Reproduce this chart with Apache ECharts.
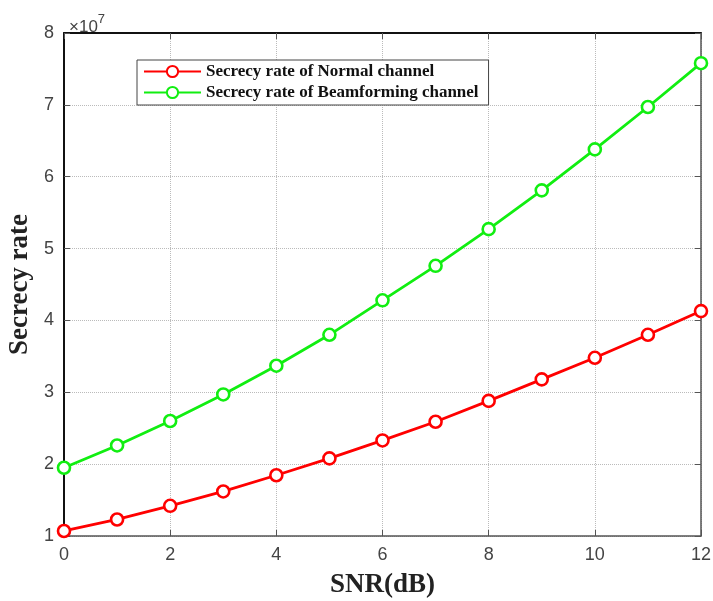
<!DOCTYPE html>
<html>
<head>
<meta charset="utf-8">
<script src="https://cdn.jsdelivr.net/npm/echarts@6/dist/echarts.min.js"></script>
<style>html,body{margin:0;padding:0;background:#fff}#c{width:713px;height:601px}</style>
</head>
<body>
<div id="c"></div>
<script>
const snr = [0,1,2,3,4,5,6,7,8,9,10,11,12];
const normal = [1.07,1.23,1.42,1.62,1.845,2.08,2.33,2.59,2.88,3.18,3.48,3.80,4.13];
const beam = [1.95,2.26,2.60,2.97,3.37,3.80,4.28,4.76,5.27,5.81,6.38,6.97,7.58];
const seriesNames = ['Secrecy rate of Normal channel','Secrecy rate of Beamforming channel'];
const xTicks = {min:0,max:12,interval:2};
const yTicks = {min:1,max:8,interval:1};

const chart = echarts.init(document.getElementById('c'));
const serif = "'Liberation Serif','Times New Roman',serif";
const sans = "'Liberation Sans',Arial,sans-serif";
const toPairs = arr => arr.map((v,i)=>[snr[i], v]);
chart.setOption({
  animation:false,
  backgroundColor:'#fff',
  title:{
    left:64, top:8,
    text:'{a|×10}{b|7}',
    textStyle:{fontWeight:'normal',rich:{
      a:{fontFamily:sans,fontSize:17,fontWeight:'normal',color:'#444',verticalAlign:'bottom',padding:[6,0,0,0]},
      b:{fontFamily:sans,fontSize:13,fontWeight:'normal',color:'#444',verticalAlign:'top'}
    }}
  },
  grid:{left:64,right:12,top:33,bottom:65,containLabel:false,outerBoundsMode:'none'},
  legend:{
    orient:'vertical', left:137, top:60,
    backgroundColor:'#fff', borderColor:'#444', borderWidth:1,
    padding:[3,10,4,6], itemGap:4, itemWidth:57, itemHeight:14,
    textStyle:{fontFamily:serif,fontWeight:'bold',fontSize:17,color:'#111'},
    data:seriesNames
  },
  xAxis:[{
    type:'value', min:xTicks.min, max:xTicks.max, interval:xTicks.interval,
    name:'SNR(dB)', nameLocation:'middle', nameGap:36,
    nameTextStyle:{fontFamily:serif,fontWeight:'bold',fontSize:27,color:'#222'},
    axisLine:{show:true,onZero:false,lineStyle:{color:'#555',width:1.5}},
    axisTick:{show:true,inside:true,length:6,lineStyle:{color:'#555'}},
    axisLabel:{fontFamily:sans,fontSize:18,color:'#444',margin:10},
    splitLine:{show:true,lineStyle:{color:'#bbb',type:'dotted',width:1}}
  },{
    type:'value', position:'top', min:xTicks.min, max:xTicks.max, interval:xTicks.interval,
    axisLine:{show:true,onZero:false,lineStyle:{color:'#111',width:2}},
    axisTick:{show:true,inside:true,length:6,lineStyle:{color:'#555'}},
    axisLabel:{show:false}, splitLine:{show:false}
  }],
  yAxis:[{
    type:'value', min:yTicks.min, max:yTicks.max, interval:yTicks.interval,
    name:'Secrecy rate', nameLocation:'middle', nameGap:26,
    nameTextStyle:{fontFamily:serif,fontWeight:'bold',fontSize:27,color:'#222'},
    axisLine:{show:true,onZero:false,lineStyle:{color:'#111',width:2}},
    axisTick:{show:true,inside:true,length:6,lineStyle:{color:'#555'}},
    axisLabel:{fontFamily:sans,fontSize:18,color:'#444',margin:10},
    splitLine:{show:true,lineStyle:{color:'#bbb',type:'dotted',width:1}}
  },{
    type:'value', position:'right', min:yTicks.min, max:yTicks.max, interval:yTicks.interval,
    axisLine:{show:true,onZero:false,lineStyle:{color:'#555',width:1.5}},
    axisTick:{show:true,inside:true,length:6,lineStyle:{color:'#555'}},
    axisLabel:{show:false}, splitLine:{show:false}
  }],
  series:[{
    name:seriesNames[0], type:'line', data:toPairs(normal),
    symbol:'circle', symbolSize:12, showSymbol:true,
    lineStyle:{color:'#ff0000',width:2.8},
    itemStyle:{color:'#fff',borderColor:'#ff0000',borderWidth:2.6},
    z:3
  },{
    name:seriesNames[1], type:'line', data:toPairs(beam),
    symbol:'circle', symbolSize:12, showSymbol:true,
    lineStyle:{color:'#11ee11',width:2.8},
    itemStyle:{color:'#fff',borderColor:'#11ee11',borderWidth:2.6},
    z:3
  }]
});
</script>
</body>
</html>
